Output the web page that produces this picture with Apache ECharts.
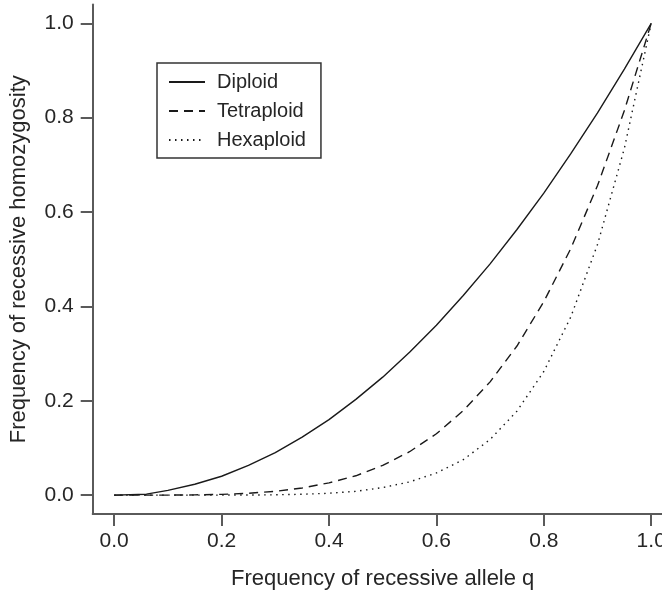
<!DOCTYPE html>
<html>
<head>
<meta charset="utf-8">
<script src="https://cdn.jsdelivr.net/npm/echarts@6/dist/echarts.min.js"></script>
<style>
html,body{margin:0;padding:0;background:#fff;}
#chart{width:662px;height:591px;}
</style>
</head>
<body>
<div id="chart"></div>
<script>
// q values (frequency of recessive allele)
var qValues = [0, 0.06, 0.1, 0.15, 0.2, 0.25, 0.3, 0.35, 0.4, 0.45, 0.5, 0.55, 0.6, 0.65, 0.7, 0.75, 0.8, 0.85, 0.9, 0.95, 1.0];
var diploid = [0, 0.002, 0.01, 0.023, 0.04, 0.063, 0.09, 0.123, 0.16, 0.203, 0.25, 0.303, 0.36, 0.423, 0.49, 0.563, 0.64, 0.723, 0.81, 0.903, 1.0];
var tetraploid = [0, 0, 0.0001, 0.0005, 0.0016, 0.004, 0.008, 0.015, 0.026, 0.041, 0.063, 0.092, 0.13, 0.179, 0.24, 0.316, 0.41, 0.522, 0.656, 0.815, 1.0];
var hexaploid = [0, 0, 0, 0, 0.0001, 0.0002, 0.0007, 0.0018, 0.004, 0.008, 0.016, 0.028, 0.047, 0.075, 0.118, 0.178, 0.262, 0.377, 0.531, 0.735, 1.0];
var seriesNames = ['Diploid', 'Tetraploid', 'Hexaploid'];
var tickValues = [0, 0.2, 0.4, 0.6, 0.8, 1.0];
var xTitle = 'Frequency of recessive allele q';
var yTitle = 'Frequency of recessive homozygosity';

function pairs(ys) {
  return qValues.map(function (q, i) { return [q, ys[i]]; });
}

var FONT = '"Liberation Sans", Arial, Helvetica, sans-serif';
var TXT = '#262626';
var AX = '#5a5a5a';

function axisCommon(name, isX) {
  return {
    type: 'value',
    min: -0.04,
    max: 1.04,
    name: name,
    nameLocation: 'middle',
    nameGap: isX ? 54 : 63,
    nameTextStyle: { fontFamily: FONT, fontSize: 22, color: TXT },
    axisLine: { show: true, onZero: false, lineStyle: { color: AX, width: 2 } },
    axisTick: { show: true, inside: false, length: 12, customValues: tickValues, lineStyle: { color: AX, width: 2 } },
    axisLabel: {
      show: true,
      customValues: tickValues,
      margin: isX ? 17 : 19,
      fontFamily: FONT,
      fontSize: 21,
      color: TXT,
      hideOverlap: false,
      formatter: function (v) { return v.toFixed(1); }
    },
    splitLine: { show: false }
  };
}

function lineSeries(idx, ys, dash) {
  return {
    name: seriesNames[idx], type: 'line', data: pairs(ys),
    symbol: 'none', showSymbol: false, smooth: false,
    legendIcon: 'none',
    lineStyle: { color: '#1a1a1a', width: 1.4, type: dash },
    itemStyle: { color: '#1a1a1a' }
  };
}

var chart = echarts.init(document.getElementById('chart'), null, { renderer: 'canvas' });
chart.setOption({
  animation: false,
  backgroundColor: '#ffffff',
  grid: { left: 92.7, top: 4.4, width: 580, height: 509.6, containLabel: false, outerBoundsMode: 'none' },
  xAxis: axisCommon(xTitle, true),
  yAxis: axisCommon(yTitle, false),
  legend: {
    show: true,
    orient: 'vertical',
    left: 157,
    top: 63,
    data: seriesNames,
    itemWidth: 36,
    itemHeight: 14,
    itemGap: 9,
    padding: [9, 15, 8, 11],
    borderColor: '#333',
    borderWidth: 1.5,
    borderRadius: 0,
    selectedMode: false,
    itemStyle: { opacity: 0 },
    textStyle: { fontFamily: FONT, fontSize: 20, color: TXT, padding: [0, 0, 0, 7] }
  },
  series: [
    lineSeries(0, diploid, 'solid'),
    lineSeries(1, tetraploid, [9, 6]),
    lineSeries(2, hexaploid, [1.5, 4.5])
  ]
});
</script>
</body>
</html>
